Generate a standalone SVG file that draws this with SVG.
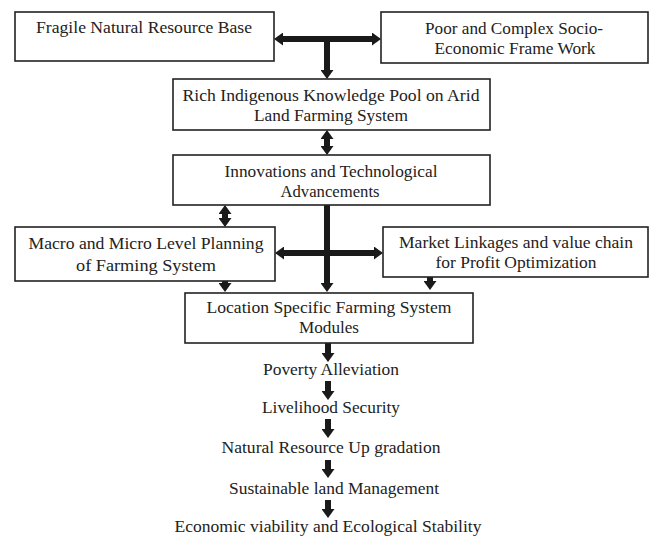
<svg xmlns="http://www.w3.org/2000/svg" width="650" height="536" viewBox="0 0 650 536">
<style>
.box{fill:#fff;stroke:#222;stroke-width:1.6}
.t{font-family:"Liberation Serif","Times New Roman",serif;font-size:17.5px;fill:#222;text-anchor:middle}
.a{stroke:#1a1a1a;stroke-width:6;fill:none}
</style>
<defs>
<marker id="h" viewBox="0 0 9 13" refX="0" refY="6.5" markerWidth="9" markerHeight="13" markerUnits="userSpaceOnUse" orient="auto-start-reverse">
<path d="M0,0 L9,6.5 L0,13 z" fill="#1a1a1a"/>
</marker>
</defs>
<rect width="650" height="536" fill="#fff"/>
<g id="connectors">
<line class="a" x1="283" y1="39" x2="372" y2="39" marker-start="url(#h)" marker-end="url(#h)"/>
<line class="a" x1="327" y1="39" x2="327" y2="70" marker-end="url(#h)"/>
<line class="a" x1="327" y1="139" x2="327" y2="146" marker-start="url(#h)" marker-end="url(#h)"/>
<line class="a" x1="225" y1="214" x2="225" y2="218" marker-start="url(#h)" marker-end="url(#h)"/>
<line class="a" x1="327" y1="202" x2="327" y2="283" marker-end="url(#h)"/>
<line class="a" x1="284" y1="253" x2="374" y2="253" marker-start="url(#h)" marker-end="url(#h)"/>
<line class="a" x1="225" y1="273" x2="225" y2="283" marker-end="url(#h)"/>
<line class="a" x1="430" y1="272" x2="430" y2="281" marker-end="url(#h)"/>
<line class="a" x1="328" y1="343" x2="328" y2="353" marker-end="url(#h)"/>
<line class="a" x1="328" y1="381" x2="328" y2="391" marker-end="url(#h)"/>
<line class="a" x1="328" y1="419" x2="328" y2="429" marker-end="url(#h)"/>
<line class="a" x1="328" y1="460" x2="328" y2="469" marker-end="url(#h)"/>
<line class="a" x1="328" y1="500" x2="328" y2="509" marker-end="url(#h)"/>
</g>
<g id="n1"><rect class="box" x="15" y="12" width="259" height="49"/><text class="t" x="144" y="33" textLength="216" lengthAdjust="spacingAndGlyphs">Fragile Natural Resource Base</text></g>
<g id="n2"><rect class="box" x="381" y="12" width="267" height="51"/><text class="t" x="514" y="34" textLength="178" lengthAdjust="spacingAndGlyphs">Poor and Complex Socio-</text><text class="t" x="515" y="54" textLength="161" lengthAdjust="spacingAndGlyphs">Economic Frame Work</text></g>
<g id="n3"><rect class="box" x="173" y="79" width="317" height="51"/><text class="t" x="331" y="101" textLength="297" lengthAdjust="spacingAndGlyphs">Rich Indigenous Knowledge Pool on Arid</text><text class="t" x="331" y="121" textLength="154" lengthAdjust="spacingAndGlyphs">Land Farming System</text></g>
<g id="n4"><rect class="box" x="173" y="155" width="317" height="50"/><text class="t" x="331" y="177" textLength="213" lengthAdjust="spacingAndGlyphs">Innovations and Technological</text><text class="t" x="330" y="197" textLength="99" lengthAdjust="spacingAndGlyphs">Advancements</text></g>
<g id="n5"><rect class="box" x="15" y="227" width="260" height="54"/><text class="t" x="146" y="249" textLength="235" lengthAdjust="spacingAndGlyphs">Macro and Micro Level Planning</text><text class="t" x="146" y="271" textLength="140" lengthAdjust="spacingAndGlyphs">of Farming System</text></g>
<g id="n6"><rect class="box" x="383" y="227" width="265" height="50"/><text class="t" x="516" y="248" textLength="234" lengthAdjust="spacingAndGlyphs">Market Linkages and value chain</text><text class="t" x="516" y="268" textLength="161" lengthAdjust="spacingAndGlyphs">for Profit Optimization</text></g>
<g id="n7"><rect class="box" x="185" y="293" width="288" height="50"/><text class="t" x="329" y="313" textLength="245" lengthAdjust="spacingAndGlyphs">Location Specific Farming System</text><text class="t" x="329" y="333" textLength="60" lengthAdjust="spacingAndGlyphs">Modules</text></g>
<g id="n8"><text class="t" x="331" y="375" textLength="136" lengthAdjust="spacingAndGlyphs">Poverty Alleviation</text></g>
<g id="n9"><text class="t" x="331" y="413" textLength="138" lengthAdjust="spacingAndGlyphs">Livelihood Security</text></g>
<g id="n10"><text class="t" x="331" y="453" textLength="219" lengthAdjust="spacingAndGlyphs">Natural Resource Up gradation</text></g>
<g id="n11"><text class="t" x="334" y="494" textLength="210" lengthAdjust="spacingAndGlyphs">Sustainable land Management</text></g>
<g id="n12"><text class="t" x="328" y="532" textLength="307" lengthAdjust="spacingAndGlyphs">Economic viability and Ecological Stability</text></g>
</svg>
